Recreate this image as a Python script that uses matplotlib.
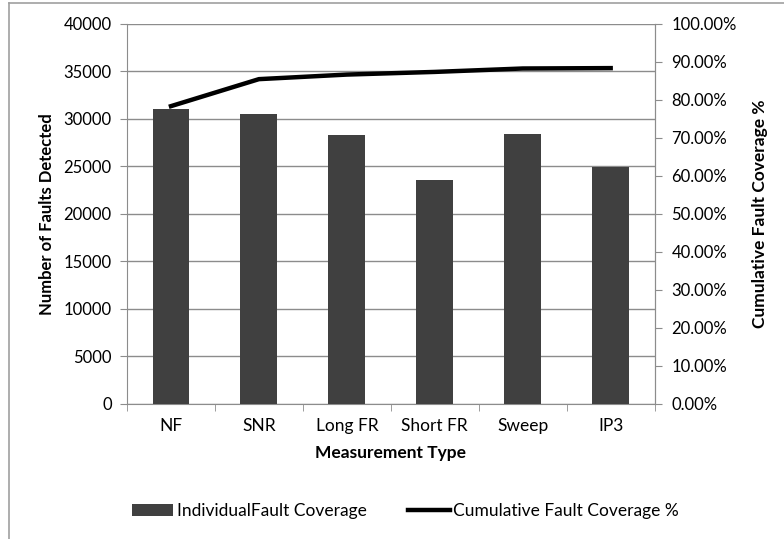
import matplotlib.pyplot as plt
from matplotlib.ticker import FuncFormatter, MultipleLocator
from matplotlib.lines import Line2D

plt.rcParams['font.family'] = ['Lato', 'DejaVu Sans']

# data
categories = ["NF", "SNR", "Long FR", "Short FR", "Sweep", "IP3"]
faults = [31000, 30500, 28250, 23600, 28400, 24900]
cumulative = [0.783, 0.854, 0.866, 0.873, 0.882, 0.883]

bar_color = "#404040"
grid_color = "#8c8c8c"

fig = plt.figure(figsize=(7.84, 5.39), dpi=100)
ax = fig.add_axes([0.162, 0.2505, 0.673, 0.7057])

x = list(range(len(categories)))
ax.bar(x, faults, width=0.42, color=bar_color, zorder=3,
       label="IndividualFault Coverage")
ax.set_xlim(-0.5, len(categories) - 0.5)
ax.set_ylim(0, 40000)
ax.yaxis.set_major_locator(MultipleLocator(5000))
ax.grid(axis="y", color=grid_color, linewidth=1, zorder=0)
ax.set_xticks(x)
ax.set_xticklabels(categories, fontsize=12.5)
ax.set_xticks([i - 0.5 for i in range(len(categories) + 1)], minor=True)
ax.tick_params(axis="x", which="major", length=0, pad=10)
ax.tick_params(axis="x", which="minor", length=5, color=grid_color)
ax.tick_params(axis="y", length=5, color=grid_color, labelsize=12, pad=6)
ax.spines["top"].set_visible(False)
for side in ["left", "bottom", "right"]:
    ax.spines[side].set_color(grid_color)
ax.set_xlabel("Measurement Type", fontsize=12.5, fontweight="bold", labelpad=8)
ax.set_ylabel("Number of Faults Detected", fontsize=12, fontweight="bold", labelpad=6)

ax2 = ax.twinx()
ax2.plot(x, cumulative, color="black", linewidth=3.2, zorder=4,
         label="Cumulative Fault Coverage %")
ax2.set_ylim(0, 1)
ax2.yaxis.set_major_locator(MultipleLocator(0.1))
ax2.yaxis.set_major_formatter(FuncFormatter(lambda v, p: f"{v * 100:.2f}%"))
ax2.tick_params(axis="y", length=5, color=grid_color, labelsize=12, pad=7)
for side in ["top", "left", "bottom"]:
    ax2.spines[side].set_visible(False)
ax2.spines["right"].set_color(grid_color)
ax2.set_ylabel("Cumulative Fault Coverage %", fontsize=12.5, fontweight="bold",
               rotation=90, labelpad=11)

h1, l1 = ax.get_legend_handles_labels()
h2, l2 = ax2.get_legend_handles_labels()
fig.legend(h1 + h2, l1 + l2, loc="center", bbox_to_anchor=(0.517, 0.052),
           ncol=2, frameon=False, fontsize=12.5, handlelength=2.4,
           handletextpad=0.2, columnspacing=2.4)

# outer chart frame (only left and top edges are visible in the reference)
fig.add_artist(Line2D([0.0115, 0.0115], [0.0, 0.994], transform=fig.transFigure,
                      color="#a0a0a0", linewidth=1.2))
fig.add_artist(Line2D([0.0115, 1.0], [0.994, 0.994], transform=fig.transFigure,
                      color="#a0a0a0", linewidth=1.2))

fig.savefig("out.png", dpi=100)
